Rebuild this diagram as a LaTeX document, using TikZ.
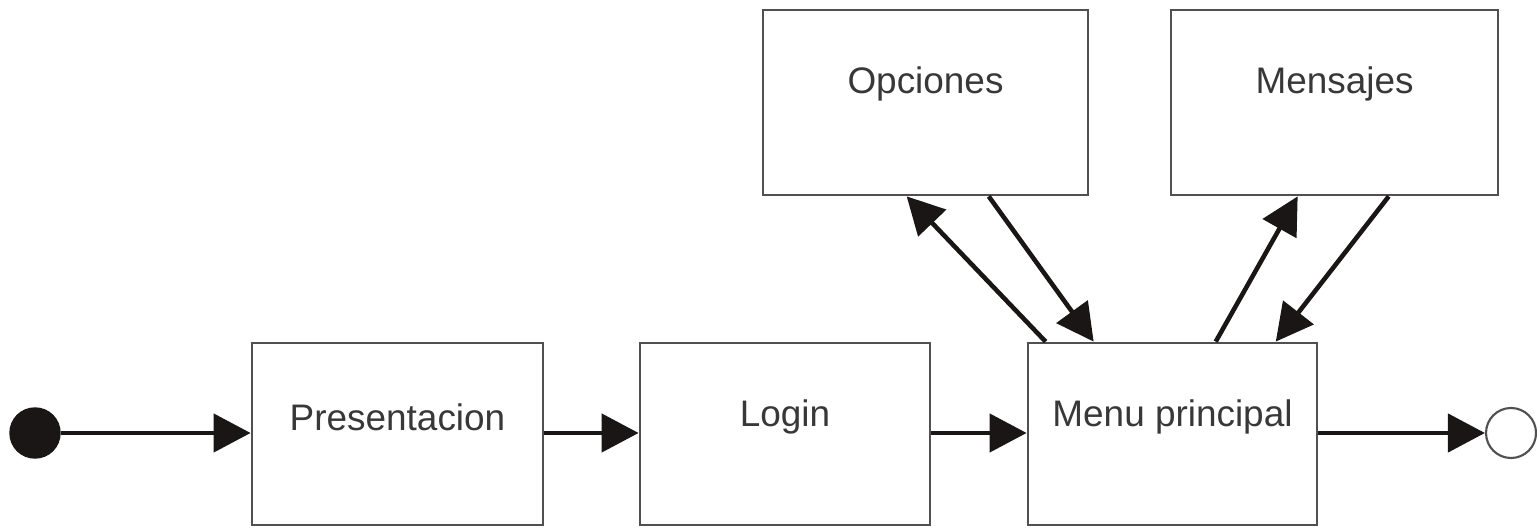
\documentclass[tikz,border=0pt]{standalone}
\usepackage{fontspec}
\setmainfont{Liberation Sans}
\usetikzlibrary{arrows.meta}
\definecolor{boxgray}{HTML}{505050}
\definecolor{txtgray}{HTML}{383838}
\definecolor{ink}{HTML}{1A1616}
\begin{document}
\begin{tikzpicture}[x=0.01cm,y=-0.01cm,
  statebox/.style={draw=boxgray, line width=0.75pt, fill=white, inner sep=0pt},
  boxtext/.style={font=\fontsize{10.5pt}{12pt}\selectfont, text=txtgray},
  flow/.style={draw=ink, line width=1.3pt, -{Triangle[length=0.37cm,width=0.38cm]}},
  startdot/.style={circle, fill=ink, draw=ink, minimum size=0.5cm, inner sep=0pt},
  enddot/.style={circle, draw=boxgray, line width=0.6pt, fill=white, minimum size=0.5cm, inner sep=0pt}]
\useasboundingbox (0,0) rectangle (1537,528);
\node[startdot] (s) at (35,433) {};
\node[statebox, minimum width=2.91cm, minimum height=1.82cm,
  label={[boxtext, yshift=0.17cm]center:Presentacion}] (pres) at (397.5,434) {};
\node[statebox, minimum width=2.90cm, minimum height=1.82cm,
  label={[boxtext, yshift=0.17cm]center:Login}] (login) at (785,434) {};
\node[statebox, minimum width=2.89cm, minimum height=1.82cm,
  label={[boxtext, yshift=0.17cm]center:Menu principal}] (menu) at (1172.5,434) {};
\node[statebox, minimum width=3.25cm, minimum height=1.85cm,
  label={[boxtext, yshift=0.19cm]center:Opciones}] (opc) at (925.5,102.5) {};
\node[statebox, minimum width=3.27cm, minimum height=1.85cm,
  label={[boxtext, yshift=0.19cm]center:Mensajes}] (mens) at (1334.5,102.5) {};
\node[enddot] (e) at (1511,433) {};
\draw[flow] (s.east) -- (s.east -| pres.west);
\draw[flow] (pres.east |- s) -- (login.west |- s);
\draw[flow] (login.east |- s) -- (menu.west |- s);
\draw[flow] (menu.east |- s) -- (e.west);
\draw[flow] ([xshift=0.19cm]menu.north west) -- ([xshift=1.45cm]opc.south west);
\draw[flow] ([xshift=2.27cm]opc.south west) -- ([xshift=0.67cm]menu.north west);
\draw[flow] ([xshift=1.89cm]menu.north west) -- ([xshift=1.28cm]mens.south west);
\draw[flow] ([xshift=2.19cm]mens.south west) -- ([xshift=2.49cm]menu.north west);
\end{tikzpicture}
\end{document}
